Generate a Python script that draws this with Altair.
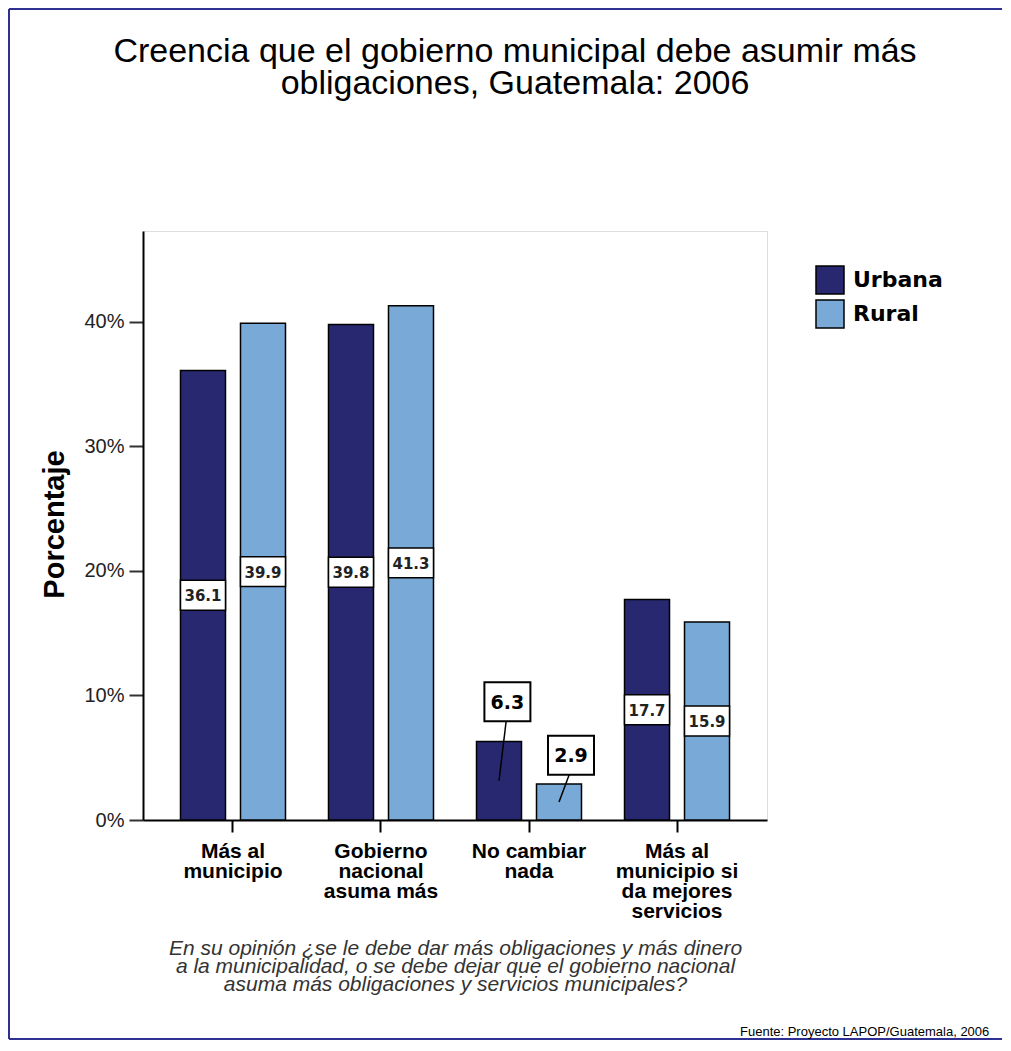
import altair as alt
import pandas as pd

# ---------------- data ----------------
categories = [
    "Más al\nmunicipio",
    "Gobierno\nnacional\nasuma más",
    "No cambiar\nnada",
    "Más al\nmunicipio si\nda mejores\nservicios",
]
areas = ["Urbana", "Rural"]
urbana = [36.1, 39.8, 6.3, 17.7]
rural = [39.9, 41.3, 2.9, 15.9]
colors = ["#27286F", "#79A9D7"]

title_lines = ["Creencia que el gobierno municipal debe asumir más",
               "obligaciones, Guatemala: 2006"]
question_lines = [
    "En su opinión ¿se le debe dar más obligaciones y más dinero",
    "a la municipalidad, o se debe dejar que el gobierno nacional",
    "asuma más obligaciones y servicios municipales?",
]
source_text = "Fuente: Proyecto LAPOP/Guatemala, 2006"

# callout labels drawn above the two small bars
callout_cat = [categories[2], categories[2]]
callout_area = ["Urbana", "Rural"]
callout_value = [6.3, 2.9]
callout_center = [9.5, 5.2]      # label box centre (percent)
callout_shift = [0.28, 0.40]     # horizontal nudge in offset units

# ---------------- tables ----------------
rows = []
for i, c in enumerate(categories):
    rows.append({"cat": c, "area": "Urbana", "value": urbana[i]})
    rows.append({"cat": c, "area": "Rural", "value": rural[i]})
df = pd.DataFrame(rows)

co = pd.DataFrame({"cat": callout_cat, "area": callout_area,
                   "value": callout_value, "center": callout_center,
                   "shift": callout_shift})

lead_rows = []
for i in range(len(callout_cat)):
    base = -1 if callout_area[i] == "Urbana" else 1
    lead_rows.append({"id": i, "cat": callout_cat[i], "off": base, "y": callout_value[i] / 2})
    lead_rows.append({"id": i, "cat": callout_cat[i], "off": base + callout_shift[i] * 0.85,
                      "y": callout_center[i] - 1.57})
lead = pd.DataFrame(lead_rows)

W, H = 624, 589
PAD_OUT = 0.108
STEP = W / (len(categories) + 2 * PAD_OUT)
Y_MAX = 47.3
xscale = alt.Scale(domain=categories, paddingInner=0, paddingOuter=PAD_OUT)
# offset measured from the band start: centre of band +/- 30 px
oscale = alt.Scale(domain=[-1, 1], range=[STEP / 2 - 30, STEP / 2 + 30])
yscale = alt.Scale(domain=[0, Y_MAX], nice=False, zero=True)

off_calc = "datum.area == 'Urbana' ? -1 : 1"

x_enc = alt.X(
    "cat:N", scale=xscale, sort=categories,
    axis=alt.Axis(
        labelExpr="split(datum.label, '\\n')",
        labelFont="Liberation Sans", labelFontSize=21, labelFontWeight="bold",
        labelColor="#000", labelLineHeight=20, labelPadding=8, labelAngle=0,
        tickSize=12, tickWidth=2, tickColor="#000",
        domainColor="#000", domainWidth=2,
        title=question_lines, titleFont="Liberation Sans", titleFontSize=21,
        titleFontStyle="italic", titleFontWeight="normal", titleColor="#333",
        titleLineHeight=18, titleY=134, titleBaseline="alphabetic",
    ),
)
y_enc = alt.Y(
    "value:Q", scale=yscale,
    axis=alt.Axis(
        values=[0, 10, 20, 30, 40], labelExpr="datum.value + '%'",
        labelFont="Liberation Sans", labelFontSize=20, labelColor="#222",
        labelPadding=5, tickSize=14, tickWidth=2, tickColor="#333",
        domainColor="#000", domainWidth=2, grid=False,
        title="Porcentaje", titleFont="Liberation Sans", titleFontSize=29,
        titleFontWeight="bold", titleColor="#000", titleX=-80, titleY=293,
        titleAngle=-90, titleAlign="center", titleBaseline="alphabetic",
    ),
)

base = alt.Chart(df).transform_calculate(off=off_calc)

bars = base.mark_bar(width=45, stroke="#000", strokeWidth=1.5, opacity=1).encode(
    x=x_enc,
    xOffset=alt.XOffset("off:Q", scale=oscale),
    y=y_enc,
    color=alt.Color(
        "area:N", scale=alt.Scale(domain=areas, range=colors),
        legend=alt.Legend(
            title=None, orient="none", legendX=672, legendY=34,
            symbolType="square", symbolSize=784, symbolStrokeColor="#000",
            symbolStrokeWidth=1.5, symbolOpacity=1,
            labelFont="DejaVu Sans", labelFontSize=22, labelFontWeight="bold",
            labelColor="#000", labelOffset=8, rowPadding=0, padding=0,
        ),
    ),
)

inside = base.transform_filter("datum.value >= 10").transform_calculate(
    lo="datum.value / 2 - 1.2", hi="datum.value / 2 + 1.2", mid="datum.value / 2"
)
in_box = inside.mark_bar(width=45, fill="#fff", stroke="#000", strokeWidth=1.5).encode(
    x=alt.X("cat:N", sort=categories),
    xOffset=alt.XOffset("off:Q", scale=oscale),
    y=alt.Y("lo:Q"), y2="hi:Q",
)
in_text = inside.mark_text(font="DejaVu Sans", fontSize=15, fontWeight="bold",
                           color="#222", baseline="middle", dy=1).encode(
    x=alt.X("cat:N", sort=categories),
    xOffset=alt.XOffset("off:Q", scale=oscale),
    y=alt.Y("mid:Q"),
    text=alt.Text("value:Q", format=".1f"),
)

cbase = alt.Chart(co).transform_calculate(
    off="(datum.area == 'Urbana' ? -1 : 1) + datum.shift",
    lo="datum.center - 1.57", hi="datum.center + 1.57",
)
leaders = alt.Chart(lead).mark_line(color="#000", strokeWidth=1.5).encode(
    x=alt.X("cat:N", sort=categories),
    xOffset=alt.XOffset("off:Q", scale=oscale),
    y=alt.Y("y:Q"),
    detail="id:N",
)
co_box = cbase.mark_bar(width=46, fill="#fff", stroke="#000", strokeWidth=2).encode(
    x=alt.X("cat:N", sort=categories),
    xOffset=alt.XOffset("off:Q", scale=oscale),
    y=alt.Y("lo:Q"), y2="hi:Q",
)
co_text = cbase.mark_text(font="DejaVu Sans", fontSize=19, fontWeight="bold",
                          color="#000", baseline="middle", dy=1).encode(
    x=alt.X("cat:N", sort=categories),
    xOffset=alt.XOffset("off:Q", scale=oscale),
    y=alt.Y("center:Q"),
    text=alt.Text("value:Q", format=".1f"),
)

one = pd.DataFrame({"k": [0]})
title_mark = alt.Chart(one).mark_text(
    text=title_lines, font="Liberation Sans", fontSize=34, lineHeight=32,
    align="center", baseline="alphabetic", color="#000",
).encode(x=alt.value(372), y=alt.value(-169))
source_mark = alt.Chart(one).mark_text(
    text=source_text, font="Liberation Sans", fontSize=13, align="left",
    baseline="alphabetic", color="#000",
).encode(x=alt.value(597), y=alt.value(805))

BORDER = "#2E3192"
border_top = alt.Chart(one).mark_rule(color=BORDER, strokeWidth=2).encode(
    x=alt.value(-134), x2=alt.value(859), y=alt.value(-222))
border_left = alt.Chart(one).mark_rule(color=BORDER, strokeWidth=2).encode(
    x=alt.value(-134), y=alt.value(-222), y2=alt.value(808))
border_bottom = alt.Chart(one).mark_rule(color=BORDER, strokeWidth=2).encode(
    x=alt.value(-134), x2=alt.value(859), y=alt.value(808))

chart = alt.layer(
    border_top, border_left, border_bottom,
    bars, in_box, in_text, leaders, co_box, co_text, title_mark, source_mark
).properties(
    width=W, height=H,
    padding={"left": 135, "top": 223, "right": 236, "bottom": 220},
    autosize=alt.AutoSizeParams(type="none"),
).configure_view(
    stroke="#A0A0A0", strokeWidth=2.5
).configure(background="#ffffff")

chart.save("out.html", embed_options={"renderer": "svg", "actions": False})
